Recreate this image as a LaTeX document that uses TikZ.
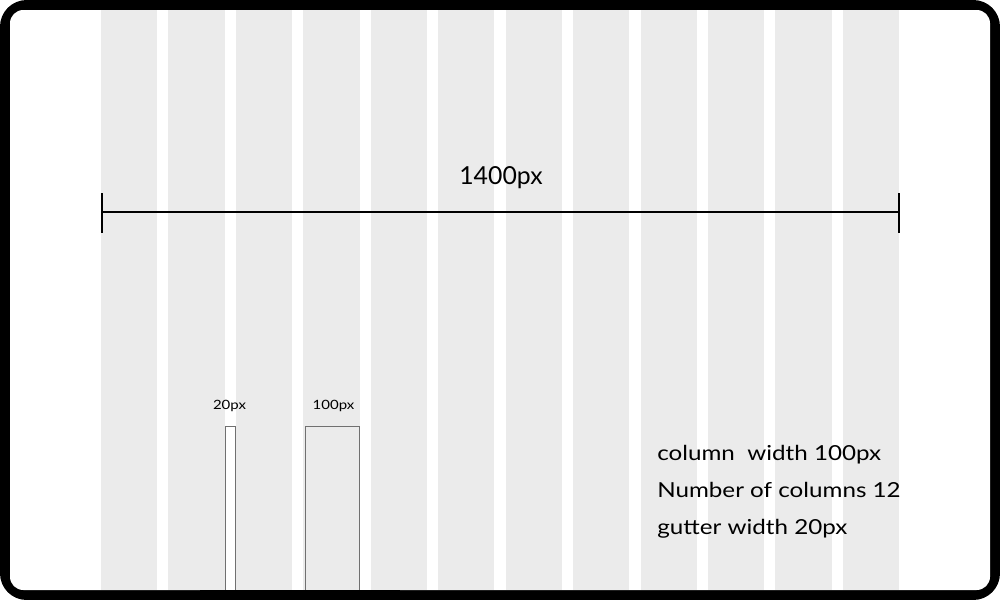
\documentclass[tikz,border=0pt]{standalone}
\usepackage{fontspec}
\setmainfont{Lato}
\newfontfamily\widelato{Lato}[FakeStretch=1.17]
\definecolor{colgray}{HTML}{EBEBEB}
\definecolor{rectline}{HTML}{707070}
\begin{document}
\begin{tikzpicture}[x=0.75pt,y=-0.75pt,
  colbar/.style={fill=colgray,draw=none},
  dimline/.style={line width=1.5pt,black},
  titletext/.style={inner sep=0pt,font=\fontsize{18.6pt}{22pt}\selectfont},
  bigtext/.style={inner sep=0pt,font=\widelato\fontsize{15.5pt}{18pt}\selectfont},
  smalltext/.style={inner sep=0pt,font=\widelato\fontsize{9.6pt}{11pt}\selectfont},
  samplebox/.style={draw=rectline,line width=0.6pt}]
\useasboundingbox (0,0) rectangle (1000,600);
% frame
\fill[black,rounded corners=20] (0,0) rectangle (1000,600);
\fill[white,rounded corners=10] (10,10) rectangle (990,590);
% columns
\foreach \i in {0,...,11}{
  \fill[colbar] ({101+67.44*\i},10) rectangle ({101+67.44*\i+56.2},590);
}
% dimension line
\coordinate (L) at (102,212);
\coordinate (R) at (899,212);
\coordinate (Lt) at (102,193);
\coordinate (Lb) at (102,233);
\coordinate (Rt) at (899,193);
\coordinate (Rb) at (899,233);
\draw[dimline] (L) -- (R);
\draw[dimline] (Lt) -- (Lb);
\draw[dimline] (Rt) -- (Rb);
\node[titletext,anchor=base] (w) at (501,184.3) {1400px};
% sample boxes
\coordinate (g1) at (225.7,426.3);
\coordinate (g2) at (235.3,595);
\coordinate (c1) at (305.3,426.3);
\coordinate (c2) at (359.7,595);
\draw[samplebox,fill=white] (g1) rectangle (g2);
\draw[samplebox,fill=colgray] (c1) rectangle (c2);
\node[smalltext,anchor=base] (gl) at (229.5,409) {20px};
\node[smalltext,anchor=base] (cl) at (333.5,409) {100px};
% redraw bottom border over boxes
\fill[black] (200,590) rectangle (400,600);
% info text
\node[bigtext,anchor=base west] (t1) at (657,460) {column\ \ width 100px};
\node[bigtext,anchor=base west] (t2) at (657,497) {Number of columns 12};
\node[bigtext,anchor=base west] (t3) at (657,534) {gutter width 20px};
\end{tikzpicture}
\end{document}
